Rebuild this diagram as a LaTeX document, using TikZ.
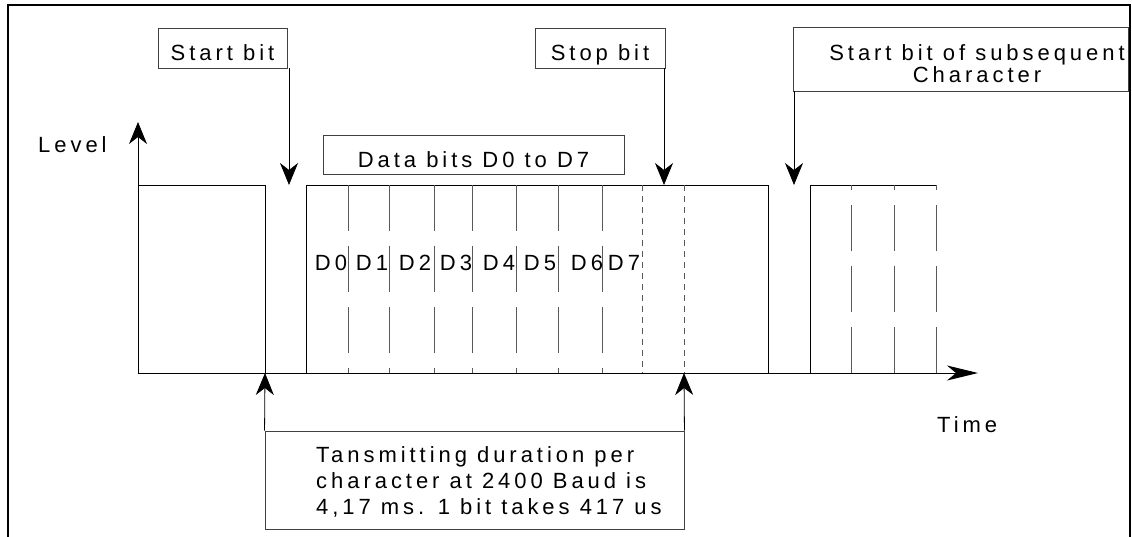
\documentclass[tikz,border=0pt]{standalone}
\usepackage{fontspec}
\setmainfont{Liberation Sans}[LetterSpace=18]
\usetikzlibrary{arrows.meta,calc}

\begin{document}
\begin{tikzpicture}[x=1pt,y=-1pt,
    txt/.style={font=\fontsize{22}{26}\selectfont,inner sep=0pt},
    box/.style={draw=black!75,line width=0.9pt,inner sep=0pt,font=\fontsize{22}{26}\selectfont,text height=25pt,text depth=0pt},
    wave/.style={line width=1pt},
    sep/.style={draw=black!65,line width=1pt,dash pattern=on 46pt off 15pt},
    stopsep/.style={draw=black!65,line width=1pt,dash pattern=on 6pt off 5pt},
    pointer/.style={line width=0.8pt,-{Stealth[length=22pt,width=18pt,inset=7pt]}}]
  \useasboundingbox (0,0) rectangle (1132,536);
  %FRAME
  \draw[line width=2pt] (8,545) -- (8,5) -- (1130,5) -- (1130,545);
  %AXES
  \coordinate (O) at (138,373);
  \coordinate (ltop) at (138,122);
  \coordinate (tend) at (978,373);
  \draw[pointer] (O) -- (ltop);
  \draw[line width=1pt,-{Stealth[length=31pt,width=15pt,inset=9pt]}] (O) -- (tend);
  \node[txt,anchor=west] (level) at (38,144.5) {Level};
  \node[txt,anchor=west] (time) at (937,425) {Time};
  %SIGNAL
  \coordinate (fall1) at (265,373);
  \coordinate (stopend) at (684,373);
  \draw[wave] (O) -- (138,185) -- (265,185) -- (fall1);
  \draw[wave] (306,373) -- (306,185) -- (768,185) -- (768,373);
  \draw[wave] (810,373) -- (810,185) -- (936,185);
  %BITS
  \foreach \x in {348,389,434,472,516,558,602}
    \draw[sep] (\x,185) -- (\x,373);
  \foreach \x in {642,684}
    \draw[stopsep] (\x,185) -- (\x,373);
  \foreach \x in {851,894,936}
    \draw[sep] (\x,373) -- (\x,185);
  \foreach \x/\b in {331/0,372/1,415/2,456/3,499/4,540/5,587/6,624/7}
    \node[txt] (d\b) at (\x,263) {D\b};
  %BOXES and pointers
  \node[box,minimum width=129pt,minimum height=40pt] (startbox) at (222.5,48) {Start bit};
  \node[box,minimum width=130pt,minimum height=40pt] (stopbox) at (600,48) {Stop bit};
  \node[box,minimum width=301pt,minimum height=39pt] (databox) at (473.5,154.5) {Data bits D0 to D7};
  \node[box,minimum width=335pt,minimum height=64pt,text height=,text depth=] (subbox) at (960.5,59) {};
  \node[txt,align=center] (subtxt) at (977,64) {Start bit of subsequent\\[-4pt]Character};
  \node[box,minimum width=419pt,minimum height=98pt,text height=,text depth=] (durbox) at (474.5,480) {};
  \node[txt,align=left,anchor=west] (durtxt) at (316,482) {Tansmitting duration per\\character at 2400 Baud is\\4,17 ms. 1 bit takes 417 us};
  \coordinate (sb) at (289,185);
  \coordinate (sp) at (664,185);
  \coordinate (nb) at (794,185);
  \draw[pointer] (startbox.south -| sb) -- (sb);
  \draw[pointer] (stopbox.south -| sp) -- (sp);
  \draw[pointer] (subbox.south -| nb) -- (nb);
  \draw[pointer] (durbox.north west) -- (fall1);
  \draw[pointer] (durbox.north east) -- (stopend);
\end{tikzpicture}
\end{document}
